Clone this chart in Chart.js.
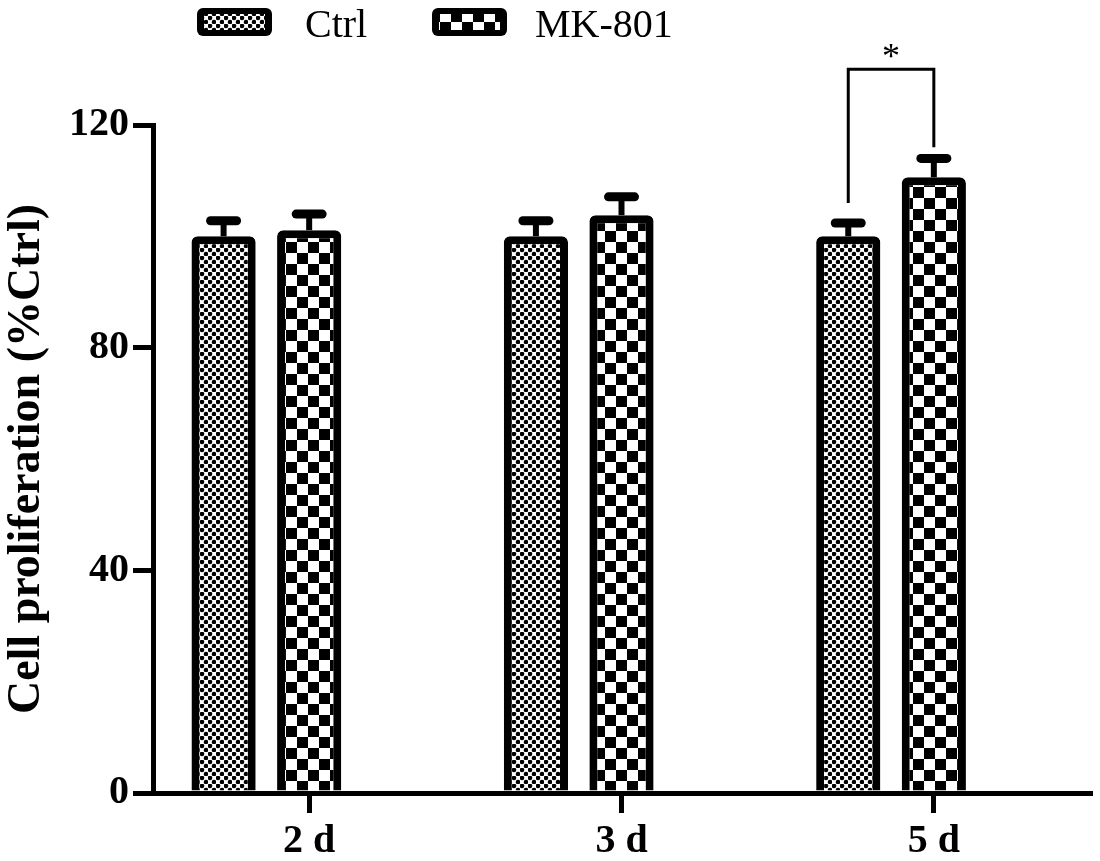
<!DOCTYPE html>
<html>
<head>
<meta charset="utf-8">
<script src="https://cdn.jsdelivr.net/npm/chart.js@4.4.1/dist/chart.umd.min.js"></script>
<style>html,body{margin:0;padding:0;background:#fff}</style>
</head>
<body>
<canvas id="myChart" width="1100" height="861"></canvas>
<script>
// chart values
var categories = ['2 d', '3 d', '5 d'];
var seriesNames = ['Ctrl', 'MK-801'];
var ctrlMean = [100, 100, 100];
var ctrlSem = [2.8, 2.8, 2.4];
var mkMean = [101.1, 103.8, 110.6];
var mkSem = [2.9, 3.3, 3.4];
var yTicks = [0, 40, 80, 120];
// significance bracket on 5 d: top of bracket, left leg end, right leg end
var sigCategory = 2;
var sigLevels = [130, 106, 116];
var sigLabel = '*';

var FONT = 'Liberation Serif, Times New Roman, serif';
var canvas = document.getElementById('myChart');
var ctx = canvas.getContext('2d');

// fill patterns for the bars
function makePattern(size, drawCell) {
    var c = document.createElement('canvas');
    c.width = size; c.height = size;
    var g = c.getContext('2d');
    g.fillStyle = '#fff';
    g.fillRect(0, 0, size, size);
    g.fillStyle = '#000';
    drawCell(g, size);
    return ctx.createPattern(c, 'repeat');
}
var ctrlPattern = makePattern(8, function(g, s){
    g.beginPath(); g.arc(2, 2, 2.3, 0, Math.PI * 2); g.fill();
    g.beginPath(); g.arc(6, 6, 2.3, 0, Math.PI * 2); g.fill();
});
var mkPattern = makePattern(22, function(g, s){
    g.fillRect(0, 0, s / 2, s / 2);
    g.fillRect(s / 2, s / 2, s / 2, s / 2);
});

// error bars (upper SEM only), significance bracket and legend
var extrasPlugin = {
    id: 'extras',
    afterDatasetsDraw: function(chart){
        var c = chart.ctx, y = chart.scales.y;
        c.save();
        c.strokeStyle = '#000';
        [0, 1].forEach(function(d){
            var ds = chart.data.datasets[d];
            chart.getDatasetMeta(d).data.forEach(function(bar, i){
                var yTop = y.getPixelForValue(ds.data[i]);
                var yCap = y.getPixelForValue(ds.data[i] + ds.sem[i]);
                c.lineCap = 'butt';
                c.lineWidth = 6;
                c.beginPath(); c.moveTo(bar.x, yTop); c.lineTo(bar.x, yCap); c.stroke();
                c.lineCap = 'round';
                c.lineWidth = 9;
                c.beginPath(); c.moveTo(bar.x - 13, yCap); c.lineTo(bar.x + 13, yCap); c.stroke();
            });
        });
        // bracket
        var lx = chart.getDatasetMeta(0).data[sigCategory].x;
        var rx = chart.getDatasetMeta(1).data[sigCategory].x;
        var top = y.getPixelForValue(sigLevels[0]);
        c.lineCap = 'butt';
        c.lineWidth = 3;
        c.beginPath();
        c.moveTo(lx, y.getPixelForValue(sigLevels[1]));
        c.lineTo(lx, top);
        c.lineTo(rx, top);
        c.lineTo(rx, y.getPixelForValue(sigLevels[2]));
        c.stroke();
        c.fillStyle = '#000';
        c.font = '36px ' + FONT;
        c.textAlign = 'center';
        c.textBaseline = 'alphabetic';
        c.fillText(sigLabel, (lx + rx) / 2, top - 1);
        c.restore();
    },
    afterDraw: function(chart){
        var c = chart.ctx;
        var boxX = [197, 432], textX = [305, 535];
        c.save();
        for (var d = 0; d < 2; d++) {
            var ds = chart.data.datasets[d];
            c.fillStyle = '#000';
            c.beginPath(); c.roundRect(boxX[d], 8, 75, 28, 6); c.fill();
            c.fillStyle = ds.backgroundColor;
            c.fillRect(boxX[d] + 7, 14, 61, 16);
            c.fillStyle = '#000';
            c.font = '40px ' + FONT;
            c.textAlign = 'left';
            c.textBaseline = 'alphabetic';
            c.fillText(ds.label, textX[d], 37);
        }
        c.restore();
    }
};

var chart = new Chart(ctx, {
    type: 'bar',
    data: {
        labels: categories,
        datasets: [
            { label: seriesNames[0], data: ctrlMean, sem: ctrlSem, backgroundColor: ctrlPattern,
              borderColor: '#000', borderWidth: 8, borderRadius: 6 },
            { label: seriesNames[1], data: mkMean, sem: mkSem, backgroundColor: mkPattern,
              borderColor: '#000', borderWidth: 8, borderRadius: 6 },
            // empty slot so the MK-801 bar sits on the category tick, as in the figure
            { label: '', data: [null, null, null] }
        ]
    },
    options: {
        responsive: false,
        animation: false,
        devicePixelRatio: 1,
        layout: { padding: { top: 125, right: 10, left: 0, bottom: 0 } },
        datasets: { bar: { barPercentage: 0.75, categoryPercentage: 0.822 } },
        plugins: { legend: { display: false }, tooltip: { enabled: false } },
        scales: {
            x: {
                z: 1,
                grid: { drawOnChartArea: false, offset: false, tickLength: 20, lineWidth: 5, tickWidth: 5, color: '#000', tickColor: '#000' },
                border: { display: true, width: 5, color: '#000' },
                ticks: { color: '#000', padding: 5, font: { family: FONT, size: 40, weight: 'bold' } },
                afterFit: function(s){ s.height = 68; }
            },
            y: {
                z: 1,
                min: 0,
                max: 120,
                afterBuildTicks: function(s){ s.ticks = yTicks.map(function(v){ return { value: v }; }); },
                grid: { drawOnChartArea: false, tickLength: 20, lineWidth: 5, tickWidth: 5, color: '#000', tickColor: '#000' },
                border: { display: true, width: 5, color: '#000' },
                ticks: { color: '#000', padding: 4, font: { family: FONT, size: 40, weight: 'bold' } },
                title: { display: true, text: 'Cell proliferation (%Ctrl)', color: '#000', padding: 0,
                         font: { family: FONT, size: 46, weight: 'bold' } },
                afterFit: function(s){ s.width = 153; }
            }
        }
    },
    plugins: [extrasPlugin]
});
</script>
</body>
</html>
